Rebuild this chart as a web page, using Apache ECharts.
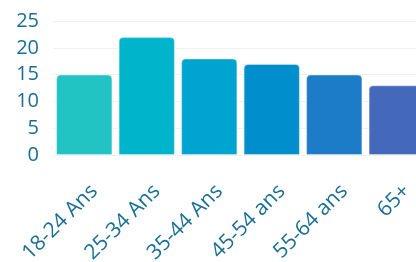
<!DOCTYPE html>
<html><head><meta charset="utf-8">
<script src="https://cdn.jsdelivr.net/npm/echarts@6/dist/echarts.min.js"></script>
<style>html,body{margin:0;padding:0;overflow:hidden;background:#fff;width:416px;height:262px}#c{width:428px;height:262px}</style>
</head><body><div id="c"></div>
<script>
const categories = ["18-24 Ans","25-34 Ans","35-44 Ans","45-54 ans","55-64 ans","65+"];
const values = [15, 22, 18, 17, 15, 13];
const colors = ["#21C4C3","#00B5CB","#00A4D0","#008FCC","#1D7CC7","#4468BB"];
const yTicks = [0,5,10,15,20,25];

const chart = echarts.init(document.getElementById('c'), null, {renderer:'canvas'});
const font = '"Open Sans", Lato, sans-serif';
const txt = '#1A6E95';
chart.setOption({
  animation:false,
  grid:[
    {left:53, width:375, top:21, bottom:107, outerBoundsMode:'none'},
    {left:63, width:375, top:21, bottom:107, outerBoundsMode:'none'}
  ],
  xAxis:[
    {type:'category', gridIndex:0, data:categories, axisLine:{show:false}, axisTick:{show:false}, axisLabel:{show:false}},
    {type:'category', gridIndex:1, data:categories, axisLine:{show:false}, axisTick:{show:false},
     axisLabel:{rotate:45, margin:33, color:txt, fontFamily:font, fontSize:21, interval:0}}
  ],
  yAxis:[
    {type:'value', gridIndex:0, min:0, max:25, interval:5,
     axisLabel:{color:txt, fontFamily:font, fontSize:20, margin:14, formatter:v=>yTicks.includes(v)?String(v):''},
     splitLine:{lineStyle:{color:'#f0f0f0', width:1}}, axisLine:{show:false}, axisTick:{show:false}},
    {type:'value', gridIndex:1, min:0, max:25, show:false}
  ],
  series:[{
    type:'bar', xAxisIndex:0, yAxisIndex:0,
    data: values.map((v,i)=>({value:v, itemStyle:{color:colors[i]}})),
    barCategoryGap:'10%',
    itemStyle:{borderRadius:[4,4,0,0], borderColor:'rgba(255,255,255,0.35)', borderWidth:1}
  }]
});
</script></body></html>
